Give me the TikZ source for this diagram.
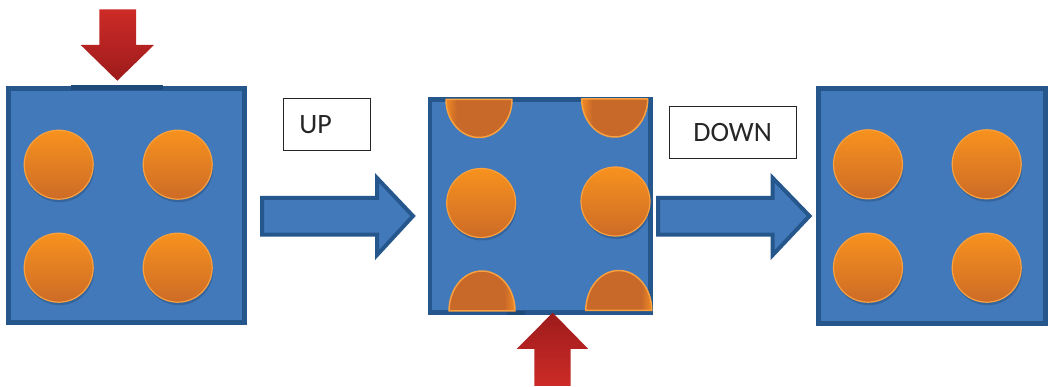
\documentclass[tikz,border=0pt]{standalone}
\usepackage{fontspec}
\newfontfamily\lblfont{Carlito}
\usetikzlibrary{shadows}
\definecolor{boxfill}{HTML}{4279BB}
\definecolor{boxline}{HTML}{25578C}
\definecolor{boxdark}{HTML}{1E4A7A}
\definecolor{orgtop}{HTML}{F7921E}
\definecolor{orgbot}{HTML}{CD6B27}
\definecolor{orgedge}{HTML}{F9A03F}
\definecolor{halffill}{HTML}{C8692A}
\definecolor{halflight}{HTML}{F08A24}
\definecolor{redtop}{HTML}{CD2B27}
\definecolor{redbot}{HTML}{9D1B1C}
\definecolor{shadowblue}{HTML}{1C406A}
\pgfdeclarehorizontalshading{halfL}{100bp}{color(0bp)=(halflight); color(25bp)=(halflight); color(33bp)=(halffill); color(100bp)=(halffill)}
\pgfdeclarehorizontalshading{halfR}{100bp}{color(0bp)=(halffill); color(67bp)=(halffill); color(75bp)=(halflight); color(100bp)=(halflight)}
\tikzset{
  panel/.style={draw=boxline, fill=boxfill, line width=4.5pt, rectangle, inner sep=0pt},
  ball/.style={circle, minimum size=69pt, inner sep=0pt, draw=orgedge, line width=1.2pt,
    top color=orgtop, bottom color=orgbot,
    drop shadow={shadow xshift=1pt, shadow yshift=-3pt, opacity=0.35, fill=shadowblue}},
  half/.style={draw=orgedge, line width=1.5pt, line join=round},
  bigarrow/.style={draw=boxline, fill=boxfill, line width=4pt, line join=miter},
  redarrow/.style={top color=redtop, bottom color=redbot},
  redarrowup/.style={top color=redbot, bottom color=redtop},
  lbl/.style={draw=black!85, line width=0.9pt, fill=white, rectangle, minimum height=52pt,
    font=\lblfont\fontsize{28}{30}\selectfont, text=black!85}
}
\begin{document}
\begin{tikzpicture}[x=1pt,y=-1pt]
\useasboundingbox (0,0) rectangle (1050,387);
\fill[white] (0,0) rectangle (1050,387);

% panels
\node[panel, minimum width=236pt, minimum height=234pt] (b1) at (126.5,205.5) {};
\node[panel, minimum width=220.5pt, minimum height=213pt] (b2) at (540.25,206) {};
\node[panel, minimum width=227pt, minimum height=235pt] (b3) at (932,206) {};

% darker pressed segments
\draw[boxdark, line width=5pt] (71,87.5) -- (163,87.5);
\draw[boxdark, line width=4pt] (507,313.5) -- (525,313.5);

% balls panel 1
\node[ball] (a11) at (58.7,164.7) {};
\node[ball] (a12) at (177.7,164.7) {};
\node[ball] (a21) at (58.7,267.7) {};
\node[ball] (a22) at (177.7,267.7) {};

% balls panel 2
\node[ball] (m1) at (481.2,203) {};
\node[ball] (m2) at (615.5,201.5) {};
\path[half, shading=halfL]
  (446,99.5) arc[start angle=180, end angle=0, x radius=33, y radius=38] -- cycle;
\path[half, shading=halfL]
  (581.7,99) arc[start angle=180, end angle=0, x radius=33, y radius=38] -- cycle;
\path[half, shading=halfR]
  (449,311) arc[start angle=180, end angle=360, x radius=33, y radius=40] -- cycle;
\path[half, shading=halfR]
  (585.8,310.5) arc[start angle=180, end angle=360, x radius=33, y radius=40] -- cycle;

% balls panel 3
\node[ball] (c11) at (868,164.3) {};
\node[ball] (c12) at (986.7,164.3) {};
\node[ball] (c21) at (868,267.7) {};
\node[ball] (c22) at (986.7,267.7) {};

% big blue arrows between panels
\path[bigarrow] (262,198) -- (377,198) -- (377,178) -- (413,216) -- (377,255)
  -- (377,234.7) -- (262,234.7) -- cycle;
\path[bigarrow] (658,198) -- (772.7,198) -- (772.7,178) -- (809.5,216) -- (772.7,255)
  -- (772.7,234.7) -- (658,234.7) -- cycle;

% labels
\node[lbl, minimum width=87.4pt, text width=55.4pt, inner xsep=16pt, align=left] (up) at (327,124.2) {UP};
\node[lbl, minimum width=126.7pt] (down) at (732.7,132.8) {DOWN};

% red press arrows
\shade[redarrow] (99.3,9.3) -- (136,9.3) -- (136,45) -- (154,45) -- (117.3,80.7)
  -- (80.7,45) -- (99.3,45) -- cycle;
\shade[redarrowup] (552.7,312.7) -- (588.3,349) -- (570.7,349) -- (570.7,386)
  -- (534.3,386) -- (534.3,349) -- (516.7,349) -- cycle;
\end{tikzpicture}
\end{document}
